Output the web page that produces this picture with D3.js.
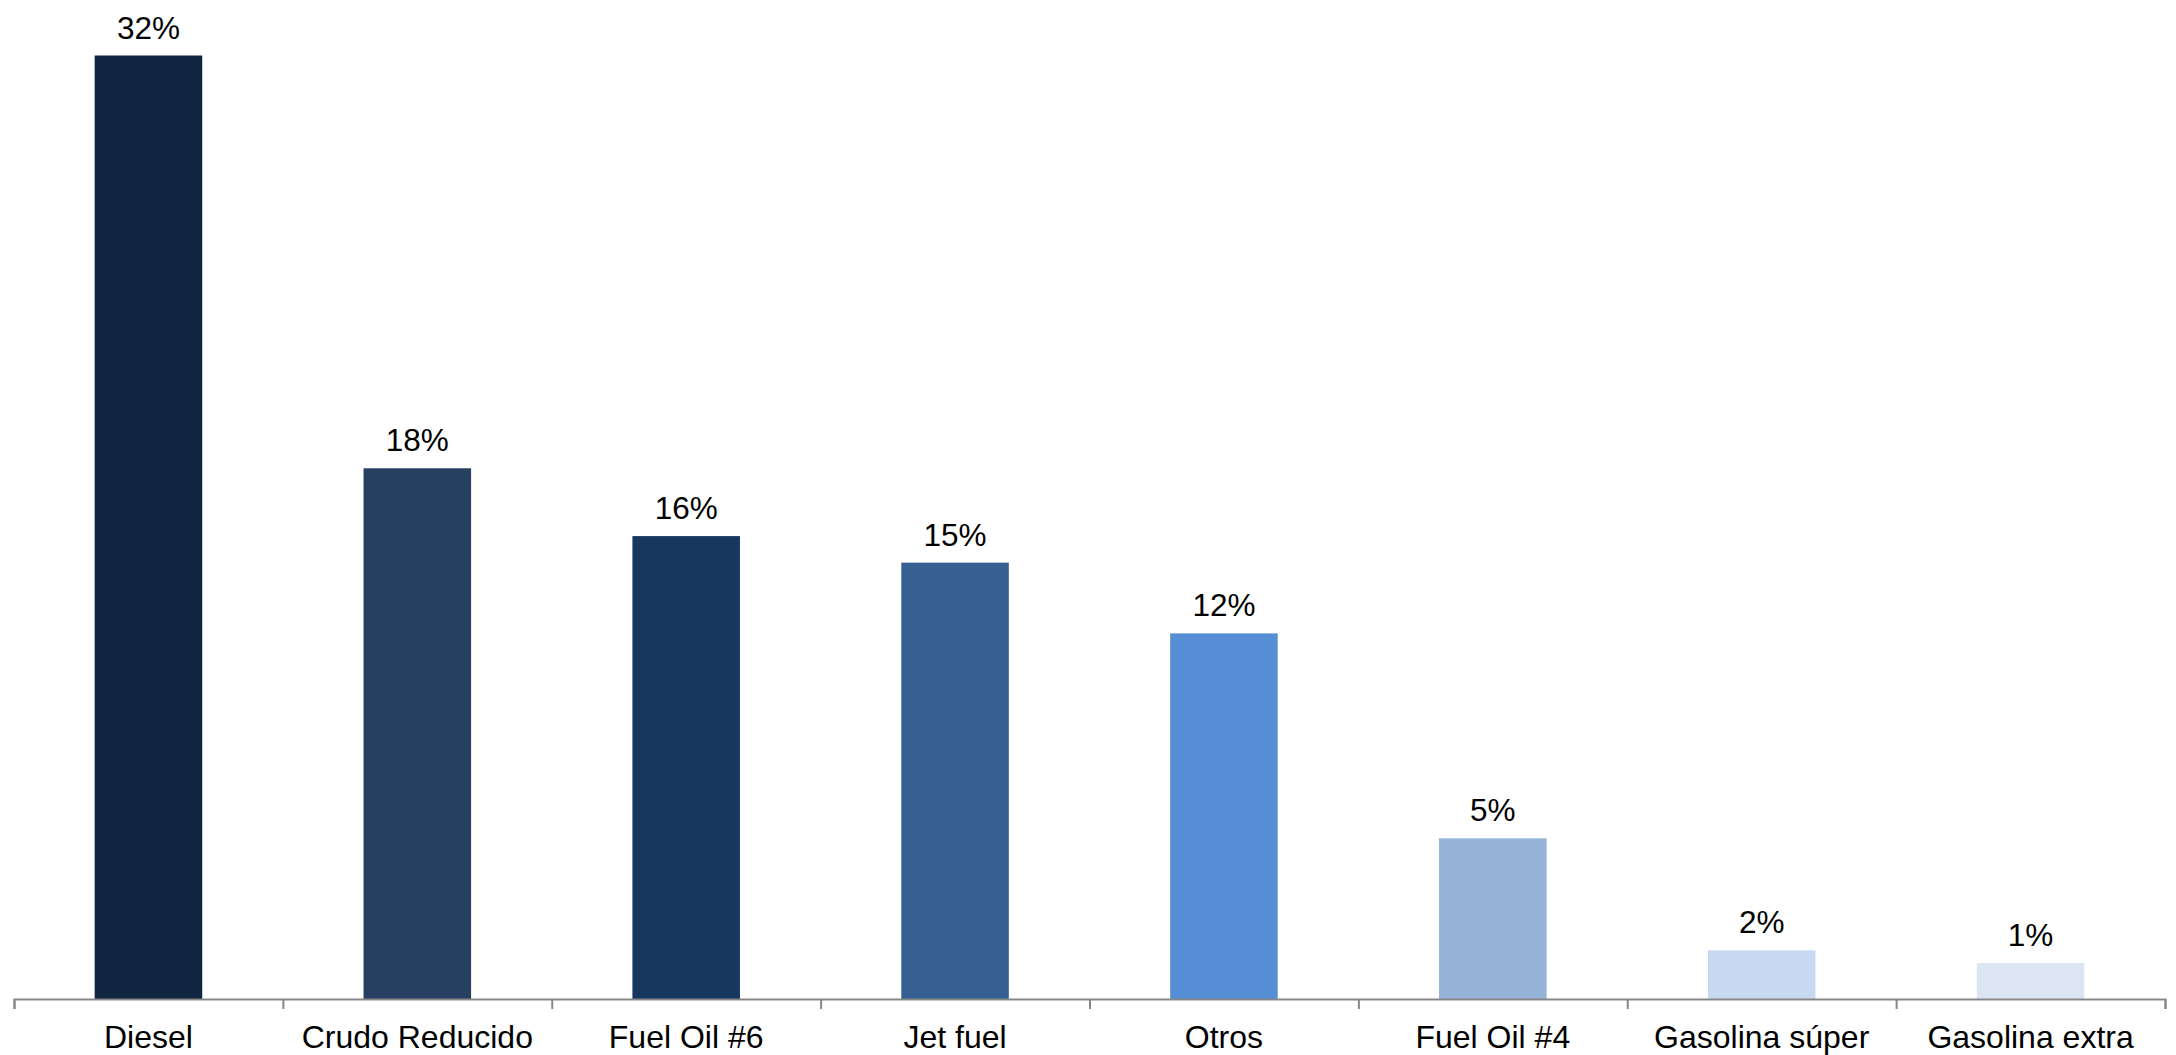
<!DOCTYPE html>
<html>
<head>
<meta charset="utf-8">
<script src="https://cdn.jsdelivr.net/npm/d3@7"></script>
<style>
  html, body { margin: 0; padding: 0; background: #fff; }
  svg { display: block; font-family: "Liberation Sans", Arial, sans-serif; }
</style>
</head>
<body>
<script>
// data (share of volume, %)
const categories = ['Diesel', 'Crudo Reducido', 'Fuel Oil #6', 'Jet fuel', 'Otros', 'Fuel Oil #4', 'Gasolina súper', 'Gasolina extra'];
const values = [32.0, 18.0, 15.7, 14.8, 12.4, 5.45, 1.65, 1.22];
const colors = ['#10253F', '#254061', '#17375E', '#376092', '#558ED5', '#95B3D7', '#C6D9F1', '#DCE6F2'];

function draw() {
  const width = 2176;
  const height = 1055;
  const left = 14, right = 2165, baseY = 999, topY = 55.5;

  const svg = d3.select('body').append('svg')
      .attr('width', width)
      .attr('height', height);

  const x = d3.scaleBand()
      .domain(categories)
      .range([left, right])
      .paddingInner(0.6)
      .paddingOuter(0.3);

  const y = d3.scaleLinear()
      .domain([0, d3.max(values)])
      .range([baseY, topY]);

  const data = categories.map((c, i) => ({name: c, value: values[i], color: colors[i]}));

  svg.append('g')
    .selectAll('rect')
    .data(data)
    .join('rect')
      .attr('x', d => x(d.name))
      .attr('y', d => y(d.value))
      .attr('width', x.bandwidth())
      .attr('height', d => baseY - y(d.value))
      .attr('fill', d => d.color);

  svg.append('g')
    .selectAll('text')
    .data(data)
    .join('text')
      .attr('x', d => x(d.name) + x.bandwidth() / 2)
      .attr('y', d => y(d.value) - 17)
      .attr('text-anchor', 'middle')
      .attr('font-size', 31.5)
      .attr('fill', '#000')
      .text(d => Math.round(d.value) + '%');

  // category boundaries carry the tick marks
  const edges = d3.scaleLinear().domain([0, categories.length]).range([left, right]);
  const axis = svg.append('g')
      .attr('transform', `translate(0,${baseY})`)
      .call(d3.axisBottom(edges)
        .tickValues(d3.range(0, categories.length + 1))
        .tickSize(10)
        .tickSizeOuter(10)
        .tickFormat(''));
  axis.selectAll('path, line').attr('stroke', '#878787').attr('stroke-width', 2);

  svg.append('g')
    .selectAll('text')
    .data(categories)
    .join('text')
      .attr('x', d => x(d) + x.bandwidth() / 2)
      .attr('y', 1048)
      .attr('text-anchor', 'middle')
      .attr('font-size', 32)
      .attr('fill', '#000')
      .text(d => d);
}

draw();
</script>
</body>
</html>
